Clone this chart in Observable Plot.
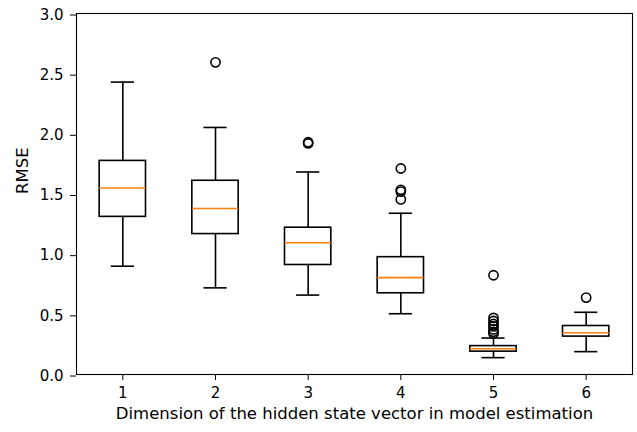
<!DOCTYPE html>
<html>
<head>
<meta charset="utf-8">
<script src="https://cdn.jsdelivr.net/npm/d3@7"></script>
<script src="https://cdn.jsdelivr.net/npm/@observablehq/plot@0.6"></script>
<style>
  html, body { margin: 0; padding: 0; background: white; }
</style>
</head>
<body>
<div id="chart"></div>
<script>
const dims = [1, 2, 3, 4, 5, 6];
const whiskerLow  = [0.90, 0.72, 0.66, 0.505, 0.14, 0.19];
const q1          = [1.31, 1.167, 0.91, 0.675, 0.19, 0.315];
const medians     = [1.55, 1.38, 1.095, 0.805, 0.214, 0.347];
const q3          = [1.775, 1.61, 1.22, 0.975, 0.236, 0.403];
const whiskerHigh = [2.43, 2.053, 1.683, 1.34, 0.303, 0.517];
const outlierDims   = [2, 3, 3, 4, 4, 4, 4, 5, 5, 5, 5, 5, 5, 5, 5, 6];
const outlierValues = [2.594, 1.92, 1.93, 1.712, 1.535, 1.52, 1.455, 0.825, 0.47, 0.445, 0.42, 0.40, 0.375, 0.355, 0.34, 0.639];
const xTicks = [1, 2, 3, 4, 5, 6];
const yTicks = [0, 0.5, 1.0, 1.5, 2.0, 2.5, 3.0];
const xLabel = "Dimension of the hidden state vector in model estimation";
const yLabel = "RMSE";

const boxes = dims.map((d, i) => ({
  dim: d, lo: whiskerLow[i], q1: q1[i], med: medians[i], q3: q3[i], hi: whiskerHigh[i]
}));
const outliers = outlierDims.map((d, i) => ({dim: d, value: outlierValues[i]}));

const halfBox = 0.25, halfCap = 0.125;
const lw = 1.6;

const chart = Plot.plot({
  width: 637,
  height: 432,
  marginLeft: 76,
  marginRight: 5,
  marginTop: 13,
  marginBottom: 58,
  style: {fontFamily: "'DejaVu Sans', sans-serif", fontSize: "15px", color: "black", background: "white"},
  x: {type: "linear", domain: [0.5, 6.5]},
  y: {type: "linear", domain: [0, 3]},
  marks: [
    Plot.ruleX(boxes, {x: "dim", y1: "q3", y2: "hi", stroke: "black", strokeWidth: lw}),
    Plot.ruleX(boxes, {x: "dim", y1: "lo", y2: "q1", stroke: "black", strokeWidth: lw}),
    Plot.ruleY(boxes, {y: "hi", x1: d => d.dim - halfCap, x2: d => d.dim + halfCap, stroke: "black", strokeWidth: lw}),
    Plot.ruleY(boxes, {y: "lo", x1: d => d.dim - halfCap, x2: d => d.dim + halfCap, stroke: "black", strokeWidth: lw}),
    Plot.rect(boxes, {x1: d => d.dim - halfBox, x2: d => d.dim + halfBox, y1: "q1", y2: "q3", fill: "white", stroke: "black", strokeWidth: lw}),
    Plot.ruleY(boxes, {y: "med", x1: d => d.dim - halfBox, x2: d => d.dim + halfBox, stroke: "#ff7f0e", strokeWidth: lw}),
    Plot.dot(outliers, {x: "dim", y: "value", r: 4.6, stroke: "black", fill: "none", strokeWidth: 1.6}),
    Plot.axisX({ticks: xTicks, tickFormat: d3.format("d"), tickSize: 6, tickPadding: 7, label: null, fontSize: 15}),
    Plot.axisY({ticks: yTicks, tickFormat: d3.format(".1f"), tickSize: 6, tickPadding: 7, label: null, fontSize: 15, dy: 1.5}),
    Plot.frame({stroke: "black", strokeWidth: 1.1}),
    Plot.text([xLabel], {frameAnchor: "bottom", dy: 44, fontSize: 16.5, fill: "black"}),
    Plot.text([yLabel], {frameAnchor: "left", dx: -54, rotate: -90, fontSize: 16.5, fill: "black"})
  ]
});
document.getElementById("chart").appendChild(chart);
</script>
</body>
</html>
